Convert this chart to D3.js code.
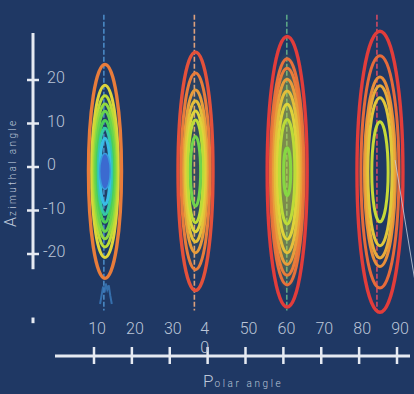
<!DOCTYPE html>
<html>
<head>
<meta charset="utf-8">
<script src="https://cdn.jsdelivr.net/npm/d3@7"></script>
<style>
  html, body { margin: 0; padding: 0; background: #1f3864; }
  svg { display: block; }
</style>
</head>
<body>
<svg id="chart" width="414" height="394"></svg>
<script>
const polarTicks = [10, 20, 30, 40, 50, 60, 70, 80, 90];
const polarTickLabels = ['10', '20', '30', '4\n0', '50', '60', '70', '80', '90'];
const azimuthTicks = [20, 10, 0, -10, -20];

// one entry per peak
const peakPolar = [12.9, 36.8, 61.0, 85.5];
const peakAzimuth = [-1, -1, -1.1, -1.1];
const meanLinePolar = [12.6, 36.5, 60.9, 84.7];
const outerHalfWidth = [4.36, 4.62, 5.28, 6.07];
// contour half heights (azimuth units), outer -> inner
const contourHalfHeights = [
    [24.6, 19.8, 17.4, 15.5, 13.8, 11.7, 9.9, 7.6],
    [27.4, 22.6, 18.7, 16.2, 13.9, 11.8, 8.0],
    [31.1, 26.0, 23.8, 21.3, 18.6, 15.5, 12.0, 5.5],
    [32.3, 26.7, 21.8, 19.8, 17.0, 11.5]
];
// contour level (colour index), outer -> inner
const contourLevels = [
    [8, 6, 5, 4.2, 3.5, 3, 2, 1],
    [9, 8, 7.3, 6.5, 6, 5, 3.6],
    [9.5, 8.3, 8, 7.3, 6.5, 6, 5, 4],
    [9.5, 8.4, 7.6, 7, 6.3, 5.3]
];
const coreHalfHeight = 4.1;
const coreHalfWidth = 1.4;
// small marginal trace under the first peak
const tracePolar = [11.6, 12.0, 12.4, 12.8, 13.1, 13.5, 13.9, 14.3, 14.7];
const traceAzimuth = [-31.5, -29.5, -27.5, -28.8, -26.8, -28.2, -27.2, -29.6, -31.5];

const LEVEL_COLORS = ['#3a6ad0', '#38bde6', '#34c8a8', '#4ccf58', '#86d842', '#bcdc38', '#ded43a', '#e8aa3a', '#e87c3a', '#e4513a'];
const MEAN_COLORS = ['#4a88c4', '#dca07c', '#5aa486', '#d04a62'];
const GLOW = [
    { color: '#38c8b0', opacity: 0.06 },
    { color: '#c8d838', opacity: 0.14 },
    { color: '#d0d838', opacity: 0.6 },
    { color: '#e0c838', opacity: 0 }
];
const AXIS_COLOR = '#e6eaf2';
const TEXT_COLOR = '#bcc6d8';

const svg = d3.select('#chart');
const x = d3.scaleLinear().domain([10, 90]).range([94, 397]);
const y = d3.scaleLinear().domain([-20, 20]).range([254, 80]);
const color = d3.scaleLinear().domain(d3.range(LEVEL_COLORS.length)).range(LEVEL_COLORS);

svg.append('rect').attr('width', 414).attr('height', 394).attr('fill', '#1f3864');

const defs = svg.append('defs');
defs.append('filter').attr('id', 'soft').append('feGaussianBlur').attr('stdDeviation', 0.45);
GLOW.forEach((g, i) => {
    const grad = defs.append('radialGradient').attr('id', 'glow' + i);
    grad.append('stop').attr('offset', '0%').attr('stop-color', g.color).attr('stop-opacity', g.opacity);
    grad.append('stop').attr('offset', '65%').attr('stop-color', g.color).attr('stop-opacity', g.opacity * 0.7);
    grad.append('stop').attr('offset', '100%').attr('stop-color', g.color).attr('stop-opacity', 0);
});

const plot = svg.append('g').attr('filter', 'url(#soft)');

// mean lines
plot.selectAll('line.mean').data(meanLinePolar).enter().append('line')
    .attr('class', 'mean')
    .attr('x1', (d) => x(d)).attr('x2', (d) => x(d))
    .attr('y1', y(35)).attr('y2', y(-33))
    .attr('stroke', (d, i) => MEAN_COLORS[i])
    .attr('stroke-width', 1.6)
    .attr('stroke-dasharray', '5,2');

peakPolar.forEach((p, i) => {
    const a = peakAzimuth[i];
    const hs = contourHalfHeights[i];
    const outer = hs[0];
    const g = plot.append('g');
    g.append('ellipse')
        .attr('cx', x(p)).attr('cy', y(a))
        .attr('rx', x(p + outerHalfWidth[i]) - x(p))
        .attr('ry', y(a - outer * 0.9) - y(a))
        .attr('fill', 'url(#glow' + i + ')');
    g.selectAll('ellipse.ring').data(hs).enter().append('ellipse')
        .attr('class', 'ring')
        .attr('cx', x(p)).attr('cy', y(a))
        .attr('rx', (h) => x(p + outerHalfWidth[i] * h / outer) - x(p))
        .attr('ry', (h) => y(a - h) - y(a))
        .attr('fill', 'none')
        .attr('stroke', (h, j) => color(contourLevels[i][j]))
        .attr('stroke-width', (h, j) => j === 0 ? 3.4 : 3);
    if (i === 0) {
        g.append('ellipse')
            .attr('cx', x(p)).attr('cy', y(a))
            .attr('rx', x(p + coreHalfWidth) - x(p))
            .attr('ry', y(a - coreHalfHeight) - y(a))
            .attr('fill', color(0)).attr('stroke', color(0.6)).attr('stroke-width', 1.5);
    }
});

plot.append('path')
    .attr('d', d3.line().x((d) => x(d[0])).y((d) => y(d[1]))(d3.zip(tracePolar, traceAzimuth)))
    .attr('fill', 'none').attr('stroke', '#3a78b8').attr('stroke-width', 2).attr('opacity', 0.85);

// stray thin line at right edge
svg.append('line')
    .attr('x1', x(89.5)).attr('y1', y(1.6)).attr('x2', x(94.6)).attr('y2', y(-25.5))
    .attr('stroke', '#c8d0e0').attr('stroke-width', 1).attr('opacity', 0.8);

// y axis
const yAxis = svg.append('g');
yAxis.append('line').attr('x1', 33).attr('x2', 33).attr('y1', y(30.8)).attr('y2', y(-23.5))
    .attr('stroke', AXIS_COLOR).attr('stroke-width', 3);
yAxis.append('line').attr('x1', 33).attr('x2', 33).attr('y1', y(-34.6)).attr('y2', y(-35.9))
    .attr('stroke', AXIS_COLOR).attr('stroke-width', 3);
yAxis.selectAll('line.tick').data(azimuthTicks).enter().append('line')
    .attr('class', 'tick')
    .attr('x1', 27).attr('x2', 39).attr('y1', (d) => y(d)).attr('y2', (d) => y(d))
    .attr('stroke', AXIS_COLOR).attr('stroke-width', 2.5);
yAxis.selectAll('text').data(azimuthTicks).enter().append('text')
    .attr('x', (d) => d < 0 ? 43 : 47)
    .attr('y', (d) => y(d) + 3)
    .attr('font-family', 'Roboto, sans-serif').attr('font-weight', 300).attr('font-size', 16)
    .attr('fill', TEXT_COLOR)
    .text((d) => d);

// x axis
const xAxis = svg.append('g');
xAxis.append('line').attr('x1', 55).attr('x2', 410).attr('y1', 356).attr('y2', 356)
    .attr('stroke', AXIS_COLOR).attr('stroke-width', 3);
xAxis.selectAll('line.tick').data(polarTicks).enter().append('line')
    .attr('class', 'tick')
    .attr('x1', (d) => x(d)).attr('x2', (d) => x(d)).attr('y1', 347).attr('y2', 364)
    .attr('stroke', AXIS_COLOR).attr('stroke-width', 2.5);
xAxis.selectAll('text').data(polarTicks).enter().append('text')
    .attr('font-family', 'Roboto, sans-serif').attr('font-weight', 300).attr('font-size', 16)
    .attr('fill', TEXT_COLOR).attr('text-anchor', 'middle')
    .each(function (d, i) {
        const lines = polarTickLabels[i].split('\n');
        d3.select(this).selectAll('tspan').data(lines).enter().append('tspan')
            .attr('x', x(d) + (lines.length > 1 ? -3 : 3))
            .attr('y', (s, k) => 334 + k * 19)
            .text((s) => s);
    });

// axis titles
const xTitle = svg.append('text').attr('x', 203).attr('y', 387)
    .attr('font-family', 'Roboto, sans-serif').attr('font-weight', 300).attr('fill', TEXT_COLOR);
xTitle.append('tspan').attr('font-size', 17).text('P');
xTitle.append('tspan').attr('font-size', 10).attr('letter-spacing', 2.6).attr('dx', 1).text('olar angle');

const yTitle = svg.append('text').attr('transform', 'translate(16,227) rotate(-90)')
    .attr('font-family', 'Roboto, sans-serif').attr('font-weight', 300).attr('fill', TEXT_COLOR);
yTitle.append('tspan').attr('font-size', 16).text('A');
yTitle.append('tspan').attr('font-size', 10).attr('letter-spacing', 2.4).attr('dx', 1).text('zimuthal angle');
</script>
</body>
</html>
